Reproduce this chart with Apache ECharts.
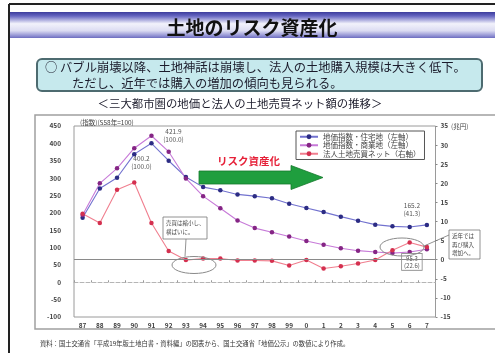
<!DOCTYPE html>
<html>
<head>
<meta charset="utf-8">
<script src="https://cdn.jsdelivr.net/npm/echarts@6/dist/echarts.min.js"></script>
<style>
  html, body { margin: 0; padding: 0; background: #fff; }
  #chart { width: 495px; height: 353px; }
</style>
</head>
<body>
<div id="chart"></div>
<script>
// Fiscal years (1987 .. 2007)
const years = ['87','88','89','90','91','92','93','94','95','96','97','98','99','0','1','2','3','4','5','6','7'];
// Land price index, three metropolitan areas (left axis)
const residential = [186, 270, 301, 369, 400.2, 350, 303, 274, 265, 253, 248, 242, 226, 214, 202, 189, 177, 166, 161, 159, 165.2];
const commercial  = [194, 285, 328, 386, 421.9, 376, 299, 248, 213, 178, 156, 144, 132, 119, 108, 98, 91, 87, 84, 87, 95.3];
// Net land purchases by corporations, trillion yen (right axis)
const netPurchase = [12.0, 9.6, 18.3, 20.2, 9.6, 2.3, -0.1, 0.3, 0.3, -0.2, -0.2, -0.3, -1.5, -0.1, -2.3, -1.7, -1.0, -0.1, 2.5, 4.5, 3.3];
// Axis ranges
const leftTicks  = { min: -100, max: 450, interval: 50 };
const rightTicks = { min: -15, max: 35, interval: 5 };
const seriesNames = ['地価指数・住宅地（左軸）', '地価指数・商業地（左軸）', '法人土地売買ネット（右軸）'];

const JP = '"Noto Sans CJK JP", "Noto Sans", sans-serif';
const PEAK = 4, LAST = years.length - 1;

// value with its share of the peak value, e.g. "421.9\n(100.0)"
function noteText(values, i) {
  const v = values[i];
  return v.toFixed(1) + '\n(' + (v / values[PEAK] * 100).toFixed(1) + ')';
}
function withNotes(values, notes) {
  return values.map((v, i) => {
    if (!notes[i]) return v;
    return {
      value: v,
      label: Object.assign({
        show: true, position: 'inside', align: 'center', verticalAlign: 'middle',
        formatter: noteText(values, i), fontSize: 6.5, lineHeight: 8,
        color: '#555', fontFamily: JP
      }, notes[i])
    };
  });
}

const chart = echarts.init(document.getElementById('chart'), null, { renderer: 'canvas' });

const option = {
  animation: false,
  backgroundColor: '#fff',
  textStyle: { fontFamily: JP },
  grid: { left: 74, right: 59.5, top: 126, bottom: 36, show: true, borderColor: '#9a9a9a', borderWidth: 1, backgroundColor: '#fff' },
  legend: {
    data: seriesNames,
    orient: 'vertical', left: 296, top: 131,
    itemWidth: 18, itemHeight: 6, itemGap: 1,
    padding: [2, 4, 2, 3],
    borderColor: '#555', borderWidth: 1, backgroundColor: '#fff',
    textStyle: { fontSize: 7.5, color: '#444', fontFamily: JP }
  },
  xAxis: {
    type: 'category', data: years, boundaryGap: true,
    axisLine: { onZero: true, lineStyle: { color: '#b5b5b5', width: 1, type: 'dashed' } },
    axisTick: { show: true, inside: true, length: 2, alignWithLabel: false, lineStyle: { color: '#999' } },
    axisLabel: { fontSize: 6.5, color: '#444', fontWeight: 'bold', margin: 5, interval: 0 }
  },
  yAxis: [
    {
      type: 'value', min: leftTicks.min, max: leftTicks.max, interval: leftTicks.interval,
      axisLine: { show: false }, axisTick: { show: false }, splitLine: { show: false },
      axisLabel: { fontSize: 6.5, color: '#444', fontWeight: 'bold', margin: 13 }
    },
    {
      type: 'value', min: rightTicks.min, max: rightTicks.max, interval: rightTicks.interval,
      position: 'right',
      axisLine: { show: false },
      axisTick: { show: true, length: 2, lineStyle: { color: '#888' } },
      splitLine: { show: false },
      axisLabel: { fontSize: 6.5, color: '#444', fontWeight: 'bold', margin: 5 }
    }
  ],
  series: [
    {
      name: seriesNames[0], type: 'line', yAxisIndex: 0,
      data: withNotes(residential, { [PEAK]: { offset: [-10, 19.5] }, [LAST]: { offset: [-15, -15] } }),
      symbol: 'circle', symbolSize: 4.5,
      lineStyle: { color: '#7272cf', width: 1.1 },
      itemStyle: { color: '#2c2c84' }, z: 3
    },
    {
      name: seriesNames[1], type: 'line', yAxisIndex: 0,
      data: withNotes(commercial, {
        [PEAK]: { offset: [22, 0] },
        [LAST]: { offset: [-15, 12.7], fontSize: 6, lineHeight: 7, backgroundColor: '#fff', borderColor: '#888', borderWidth: 0.8, padding: [1, 2] }
      }),
      symbol: 'circle', symbolSize: 4.5,
      lineStyle: { color: '#c77ad8', width: 1.1 },
      itemStyle: { color: '#852585' }, z: 3
    },
    {
      name: seriesNames[2], type: 'line', yAxisIndex: 1,
      data: netPurchase,
      symbol: 'circle', symbolSize: 4.5,
      lineStyle: { color: '#f07f8f', width: 1.1 },
      itemStyle: { color: '#d4304f' }, z: 3,
      markLine: {
        silent: true, symbol: 'none', label: { show: false },
        lineStyle: { color: '#8a8a8a', width: 1, type: 'solid' },
        data: [{ yAxis: 0 }]
      }
    }
  ],
  graphic: [
    // slide frame
    { type: 'line', shape: { x1: 9, y1: 4, x2: 9, y2: 353 }, style: { stroke: '#222', lineWidth: 2 } },
    { type: 'line', shape: { x1: 9, y1: 4, x2: 495, y2: 4 }, style: { stroke: '#222', lineWidth: 2 } },
    // title band
    {
      type: 'rect', shape: { x: 10, y: 12, width: 485, height: 26 },
      style: {
        fill: {
          type: 'linear', x: 0, y: 0, x2: 0, y2: 1,
          colorStops: [
            { offset: 0, color: '#3c3c9c' }, { offset: 0.15, color: '#6464c0' },
            { offset: 0.45, color: '#f2f2fb' }, { offset: 0.72, color: '#dcdcf2' },
            { offset: 0.92, color: '#8f8fd2' }, { offset: 1, color: '#6c6cbf' }
          ]
        }
      }
    },
    { type: 'text', x: 252, y: 28, style: { text: '土地のリスク資産化', fill: '#111', font: 'bold 19px ' + JP, align: 'center', verticalAlign: 'middle' } },
    // summary box
    { type: 'rect', shape: { x: 37, y: 59, width: 445, height: 32, r: 5 }, style: { fill: '#c6e9ed', stroke: '#4d6b70', lineWidth: 2 } },
    { type: 'text', x: 45, y: 67, style: { text: '○ バブル崩壊以降、土地神話は崩壊し、法人の土地購入規模は大きく低下。', fill: '#1c1c2c', font: '12.3px ' + JP, align: 'left', verticalAlign: 'middle' } },
    { type: 'text', x: 72, y: 83, style: { text: 'ただし、近年では購入の増加の傾向も見られる。', fill: '#1c1c2c', font: '12.3px ' + JP, align: 'left', verticalAlign: 'middle' } },
    { type: 'text', x: 240, y: 104, style: { text: '＜三大都市圏の地価と法人の土地売買ネット額の推移＞', fill: '#1c1c2c', font: '11.4px ' + JP, align: 'center', verticalAlign: 'middle' } },
    // chart panel
    { type: 'rect', shape: { x: 35, y: 115, width: 470, height: 214 }, style: { fill: 'none', stroke: '#a0a0a0', lineWidth: 1.5 } },
    { type: 'text', x: 80, y: 122.5, style: { text: '(指数)(S58年=100)', fill: '#444', font: '6.5px ' + JP, align: 'left', verticalAlign: 'middle' } },
    { type: 'text', x: 451, y: 127, style: { text: '(兆円)', fill: '#444', font: '6.5px ' + JP, align: 'left', verticalAlign: 'middle' } },
    // annotation: risk asset
    { type: 'text', x: 248.5, y: 161, z: 10, style: { text: 'リスク資産化', fill: '#e62038', font: 'bold 10.5px ' + JP, align: 'center', verticalAlign: 'middle' } },
    {
      type: 'polygon', z: 10,
      shape: { points: [[199, 171], [291, 171], [291, 165.5], [323, 177.5], [291, 189.5], [291, 184], [199, 184]] },
      style: { fill: '#1f9e3e', stroke: '#157a2c', lineWidth: 0.8 }
    },
    // annotation: sharp fall in purchases
    { type: 'ellipse', z: 10, shape: { cx: 194, cy: 265, rx: 22, ry: 8.5 }, style: { fill: 'none', stroke: '#8a8a8a', lineWidth: 1 } },
    { type: 'line', z: 10, shape: { x1: 186, y1: 239, x2: 185, y2: 256.5 }, style: { stroke: '#777', lineWidth: 0.8 } },
    { type: 'rect', z: 10, shape: { x: 163, y: 217, width: 44, height: 22 }, style: { fill: '#fff', stroke: '#777', lineWidth: 0.8 } },
    { type: 'text', z: 11, x: 166, y: 223, style: { text: '売買は縮小し、', fill: '#444', font: '5.5px ' + JP, align: 'left', verticalAlign: 'middle' } },
    { type: 'text', z: 11, x: 166, y: 232, style: { text: '横ばいに。', fill: '#444', font: '5.5px ' + JP, align: 'left', verticalAlign: 'middle' } },
    // annotation: recent increase
    { type: 'ellipse', z: 10, shape: { cx: 402, cy: 247, rx: 22, ry: 9 }, style: { fill: 'none', stroke: '#8a8a8a', lineWidth: 1 } },
    { type: 'line', z: 10, shape: { x1: 424, y1: 246, x2: 449, y2: 235 }, style: { stroke: '#777', lineWidth: 0.8 } },
    { type: 'rect', z: 10, shape: { x: 449, y: 230, width: 31, height: 29 }, style: { fill: '#fff', stroke: '#777', lineWidth: 0.8 } },
    { type: 'text', z: 11, x: 452, y: 236, style: { text: '近年では', fill: '#444', font: '5.5px ' + JP, align: 'left', verticalAlign: 'middle' } },
    { type: 'text', z: 11, x: 452, y: 244.5, style: { text: '再び購入', fill: '#444', font: '5.5px ' + JP, align: 'left', verticalAlign: 'middle' } },
    { type: 'text', z: 11, x: 452, y: 253, style: { text: '増加へ。', fill: '#444', font: '5.5px ' + JP, align: 'left', verticalAlign: 'middle' } },
    // source note
    { type: 'text', x: 40, y: 344, style: { text: '資料：国土交通省「平成19年版土地白書・資料編」の図表から、国土交通省「地価公示」の数値により作成。', fill: '#333', font: '6.3px ' + JP, align: 'left', verticalAlign: 'middle' } }
  ]
};

chart.setOption(option);
</script>
</body>
</html>
